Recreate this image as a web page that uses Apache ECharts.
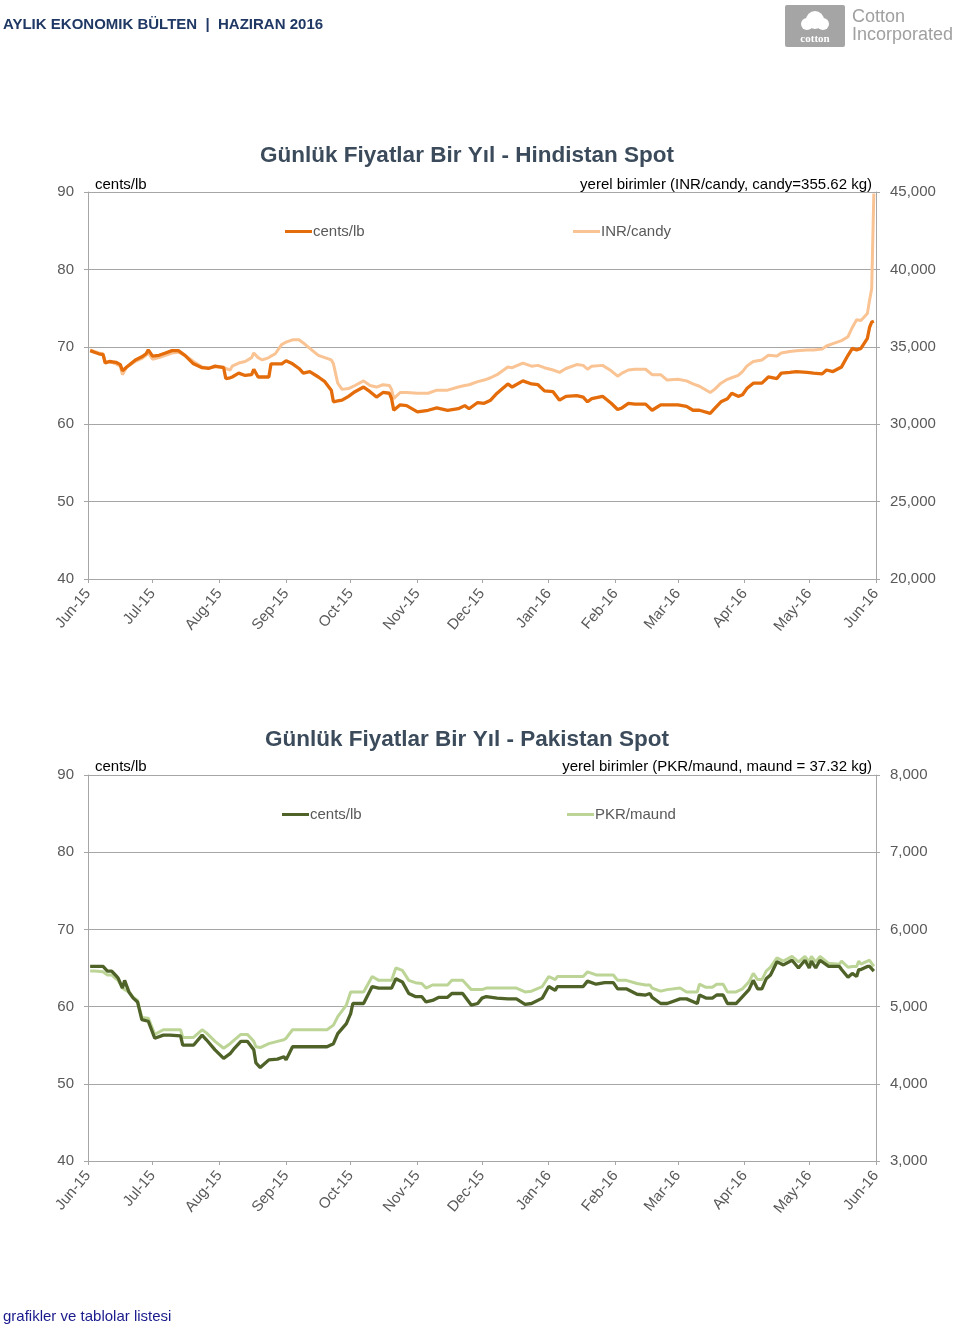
<!DOCTYPE html>
<html>
<head>
<meta charset="utf-8">
<script src="https://cdn.jsdelivr.net/npm/echarts@6/dist/echarts.min.js"></script>
<style>
html,body{margin:0;padding:0;background:#fff;}
#c{width:960px;height:1333px;}
</style>
</head>
<body>
<div id="c"></div>
<script>
// ---------- tick labels ----------
const monthStarts = ['2015-06-01','2015-07-01','2015-08-01','2015-09-01','2015-10-01','2015-11-01','2015-12-01','2016-01-01','2016-02-01','2016-03-01','2016-04-01','2016-05-01','2016-06-01'];
const monthLabels = ['Jun-15','Jul-15','Aug-15','Sep-15','Oct-15','Nov-15','Dec-15','Jan-16','Feb-16','Mar-16','Apr-16','May-16','Jun-16'];

// ---------- India ----------
const indiaDates = ['2015-06-02','2015-06-04','2015-06-06','2015-06-08','2015-06-09','2015-06-11','2015-06-14','2015-06-16','2015-06-17','2015-06-19','2015-06-23','2015-06-26','2015-06-28','2015-06-29','2015-07-01','2015-07-04','2015-07-07','2015-07-10','2015-07-13','2015-07-16','2015-07-20','2015-07-24','2015-07-27','2015-07-30','2015-08-03','2015-08-04','2015-08-06','2015-08-07','2015-08-10','2015-08-13','2015-08-16','2015-08-17','2015-08-19','2015-08-21','2015-08-24','2015-08-25','2015-08-27','2015-08-30','2015-09-01','2015-09-04','2015-09-07','2015-09-09','2015-09-12','2015-09-16','2015-09-19','2015-09-22','2015-09-23','2015-09-25','2015-09-27','2015-09-30','2015-10-03','2015-10-07','2015-10-10','2015-10-13','2015-10-16','2015-10-19','2015-10-20','2015-10-21','2015-10-24','2015-10-27','2015-11-01','2015-11-06','2015-11-10','2015-11-15','2015-11-20','2015-11-23','2015-11-25','2015-11-29','2015-12-02','2015-12-05','2015-12-08','2015-12-13','2015-12-15','2015-12-20','2015-12-24','2015-12-27','2015-12-30','2016-01-03','2016-01-06','2016-01-09','2016-01-14','2016-01-17','2016-01-19','2016-01-21','2016-01-26','2016-01-30','2016-02-02','2016-02-04','2016-02-07','2016-02-10','2016-02-15','2016-02-18','2016-02-22','2016-02-25','2016-03-01','2016-03-05','2016-03-08','2016-03-11','2016-03-16','2016-03-18','2016-03-21','2016-03-24','2016-03-26','2016-03-29','2016-03-31','2016-04-02','2016-04-05','2016-04-09','2016-04-12','2016-04-16','2016-04-18','2016-04-22','2016-04-25','2016-04-30','2016-05-03','2016-05-07','2016-05-09','2016-05-12','2016-05-16','2016-05-19','2016-05-21','2016-05-23','2016-05-25','2016-05-28','2016-05-29','2016-05-30','2016-05-31'];
const indiaCents = [69.5,69.3,69.1,69.0,67.9,68.1,68.0,67.7,66.9,67.4,68.3,68.7,69.1,69.6,68.8,68.9,69.2,69.5,69.5,68.9,67.8,67.3,67.2,67.5,67.3,65.9,66.0,66.1,66.6,66.3,66.4,67.1,66.1,66.1,66.1,67.8,67.8,67.8,68.2,67.8,67.2,66.6,66.8,66.1,65.5,64.4,62.9,63.0,63.1,63.6,64.2,64.8,64.2,63.5,64.1,64.0,63.3,61.8,62.5,62.4,61.6,61.8,62.1,61.8,62.0,62.4,62.0,62.8,62.7,63.1,64.0,65.2,64.8,65.6,65.2,65.1,64.3,64.2,63.1,63.6,63.7,63.5,62.9,63.3,63.6,62.7,61.9,62.1,62.7,62.6,62.6,61.8,62.5,62.5,62.5,62.3,61.8,61.8,61.4,62.0,62.9,63.3,64.0,63.6,63.8,64.6,65.3,65.3,66.1,65.9,66.6,66.7,66.8,66.7,66.6,66.5,67.0,66.8,67.4,68.9,69.8,69.6,69.8,71.1,72.5,73.2,73.3];
const indiaInr = [34800,34700,34600,34550,34050,34050,33900,33750,33200,33700,34050,34250,34450,34600,34200,34300,34450,34600,34650,34450,34050,33700,33650,33700,33700,33600,33500,33750,33950,34050,34300,34600,34300,34150,34300,34400,34550,35150,35300,35450,35450,35250,34900,34450,34300,34150,33900,32650,32250,32300,32500,32800,32500,32400,32550,32500,32250,31650,32050,32050,32000,32000,32200,32200,32400,32500,32550,32750,32850,33000,33200,33700,33650,33950,33750,33800,33650,33500,33350,33600,33850,33800,33550,33750,33800,33450,33100,33300,33500,33550,33550,33200,33200,32850,32900,32800,32600,32450,32050,32250,32650,32900,33000,33150,33400,33750,34050,34150,34450,34400,34600,34700,34750,34800,34800,34850,35050,35200,35400,35650,36250,36750,36700,37150,38000,38750,44900];

// ---------- Pakistan ----------
const pakDates = ['2015-06-02','2015-06-04','2015-06-08','2015-06-10','2015-06-12','2015-06-14','2015-06-15','2015-06-17','2015-06-18','2015-06-20','2015-06-22','2015-06-24','2015-06-26','2015-06-29','2015-07-02','2015-07-06','2015-07-09','2015-07-14','2015-07-15','2015-07-20','2015-07-24','2015-07-26','2015-07-30','2015-08-03','2015-08-06','2015-08-08','2015-08-11','2015-08-14','2015-08-17','2015-08-18','2015-08-20','2015-08-24','2015-08-28','2015-08-31','2015-09-01','2015-09-04','2015-09-10','2015-09-20','2015-09-23','2015-09-25','2015-09-29','2015-10-01','2015-10-02','2015-10-07','2015-10-11','2015-10-14','2015-10-20','2015-10-22','2015-10-25','2015-10-28','2015-10-31','2015-11-03','2015-11-05','2015-11-08','2015-11-11','2015-11-15','2015-11-17','2015-11-22','2015-11-26','2015-11-29','2015-12-01','2015-12-03','2015-12-08','2015-12-13','2015-12-17','2015-12-21','2015-12-24','2015-12-29','2016-01-01','2016-01-04','2016-01-05','2016-01-17','2016-01-19','2016-01-23','2016-01-27','2016-01-31','2016-02-02','2016-02-06','2016-02-11','2016-02-15','2016-02-17','2016-02-18','2016-02-22','2016-02-25','2016-03-02','2016-03-05','2016-03-10','2016-03-11','2016-03-14','2016-03-17','2016-03-19','2016-03-22','2016-03-24','2016-03-28','2016-03-31','2016-04-03','2016-04-05','2016-04-07','2016-04-09','2016-04-11','2016-04-13','2016-04-16','2016-04-19','2016-04-23','2016-04-26','2016-04-29','2016-05-01','2016-05-02','2016-05-04','2016-05-06','2016-05-10','2016-05-15','2016-05-16','2016-05-19','2016-05-21','2016-05-23','2016-05-24','2016-05-25','2016-05-28','2016-05-29','2016-05-31'];
const pakCents = [65.2,65.2,65.2,64.6,64.6,64.0,63.7,62.4,63.4,61.9,61.1,60.6,58.3,58.1,55.9,56.3,56.3,56.2,55.0,55.0,56.3,55.7,54.4,53.3,53.9,54.6,55.5,55.5,54.4,52.7,52.1,53.1,53.2,53.5,53.1,54.8,54.8,54.8,55.2,56.5,57.8,59.1,60.4,60.4,62.6,62.4,62.4,63.6,63.2,61.7,61.3,61.3,60.6,60.8,61.2,61.2,61.7,61.7,60.2,60.4,61.1,61.3,61.1,61.0,61.0,60.3,60.4,61.1,62.6,62.1,62.6,62.6,63.3,62.9,63.1,63.1,62.3,62.3,61.6,61.5,61.7,61.2,60.4,60.4,61.0,61.0,60.4,61.5,61.1,61.1,61.5,61.5,60.4,60.4,61.3,62.2,63.4,62.3,62.3,63.6,64.1,65.8,65.4,66.0,65.0,66.0,65.0,65.9,65.0,66.0,65.2,65.2,64.8,63.8,64.3,63.9,64.8,64.8,65.2,65.2,64.6];
const pakPkr = [5460,5460,5450,5410,5410,5360,5340,5240,5220,5190,5120,5080,4860,4850,4640,4700,4700,4700,4600,4600,4700,4660,4550,4460,4520,4570,4640,4640,4550,4480,4470,4520,4550,4570,4590,4700,4700,4700,4760,4870,5020,5190,5190,5190,5390,5340,5340,5500,5470,5340,5310,5300,5240,5280,5280,5280,5340,5340,5220,5220,5220,5240,5240,5240,5240,5190,5200,5260,5390,5350,5390,5390,5450,5410,5410,5410,5340,5340,5300,5280,5280,5240,5200,5220,5240,5190,5190,5290,5250,5250,5290,5290,5190,5190,5230,5320,5430,5350,5350,5460,5510,5630,5590,5650,5580,5650,5580,5650,5580,5650,5560,5550,5590,5510,5520,5520,5590,5550,5590,5600,5520];

const orangeDark = '#E46C0A', orangeLight = '#F9C393';
const greenDark = '#4F6228', greenLight = '#BCD596';
const gridColor = '#A6A6A6', labelColor = '#595959';
const FONT = '"Liberation Sans", Arial, sans-serif';

function parseLocal(s){ const p = s.split('-').map(Number); return Date.UTC(p[0], p[1]-1, p[2]); }
const monthVals = monthStarts.map(parseLocal);
function monthFmt(v){
  const i = monthVals.findIndex(m => Math.abs(m - v) < 43200000);
  return i >= 0 ? monthLabels[i] : '';
}
function pairs(dates, vals){ return dates.map((d,i)=>[parseLocal(d), vals[i]]); }
function thousands(v){ return String(v).replace(/\B(?=(\d{3})+(?!\d))/g, ','); }

function xAxisFor(gi){
  return {
    type:'value', gridIndex:gi, min:monthVals[0], max:monthVals[monthVals.length-1],
    axisLine:{show:true, onZero:false, lineStyle:{color:gridColor, width:1}},
    axisTick:{show:true, length:4, customValues:monthVals, lineStyle:{color:gridColor}},
    axisLabel:{customValues:monthVals, formatter:monthFmt, rotate:50, margin:12, color:labelColor, fontSize:15, fontFamily:FONT},
    splitLine:{show:false}
  };
}
function yLeft(gi){
  return {type:'value', gridIndex:gi, min:40, max:90, interval:10, position:'left',
    axisLine:{show:true, lineStyle:{color:gridColor}},
    axisTick:{show:true, length:4, lineStyle:{color:gridColor}},
    axisLabel:{color:labelColor, fontSize:15, fontFamily:FONT, margin:14},
    splitLine:{show:true, lineStyle:{color:gridColor, width:1}}};
}
function yRight(gi, min, max, interval){
  return {type:'value', gridIndex:gi, min:min, max:max, interval:interval, position:'right',
    axisLine:{show:true, lineStyle:{color:gridColor}},
    axisTick:{show:true, length:4, lineStyle:{color:gridColor}},
    axisLabel:{color:labelColor, fontSize:15, fontFamily:FONT, margin:14, formatter:thousands},
    splitLine:{show:false}};
}
function lineSeries(name, xi, yi, data, color, w){
  return {name:name, type:'line', xAxisIndex:xi, yAxisIndex:yi, data:data, showSymbol:false, symbol:'none',
    lineStyle:{color:color, width:w}, itemStyle:{color:color}, animation:false, z: 3};
}
function legendFor(name, left, top){
  return {data:[name], left:left, top:top, icon:'rect', itemWidth:27, itemHeight:3, itemGap:0,
    textStyle:{color:labelColor, fontSize:15, fontFamily:FONT, padding:[0,0,0,-4]}, selectedMode:false};
}
function txt(x, y, text, opts){
  return {type:'text', x:x, y:y, style:Object.assign({text:text, fill:'#000', font:'15px ' + FONT}, opts||{})};
}

const chart = echarts.init(document.getElementById('c'), null, {renderer:'canvas'});
chart.setOption({
  animation:false,
  backgroundColor:'#fff',
  grid:[
    {left:88, top:192, width:788, height:387},
    {left:88, top:775, width:788, height:386}
  ],
  xAxis:[xAxisFor(0), xAxisFor(1)],
  yAxis:[yLeft(0), yRight(0, 20000, 45000, 5000), yLeft(1), yRight(1, 3000, 8000, 1000)],
  legend:[
    legendFor('cents/lb', 280, 219), legendFor('INR/candy', 568, 219),
    legendFor('cents/lb ', 277, 802), legendFor('PKR/maund', 562, 802)
  ],
  series:[
    lineSeries('INR/candy', 0, 1, pairs(indiaDates, indiaInr), orangeLight, 3),
    lineSeries('cents/lb', 0, 0, pairs(indiaDates, indiaCents), orangeDark, 3.3),
    lineSeries('PKR/maund', 1, 3, pairs(pakDates, pakPkr), greenLight, 3),
    lineSeries('cents/lb ', 1, 2, pairs(pakDates, pakCents), greenDark, 3.3)
  ],
  graphic:[
    txt(3, 17, 'AYLIK EKONOMIK BÜLTEN  |  HAZIRAN 2016', {fill:'#1F3864', font:'bold 15px "Liberation Sans Narrow", "Liberation Sans", Arial, sans-serif'}),
    {type:'rect', shape:{x:785, y:5, width:60, height:42, r:2}, style:{fill:'#A5A5A5'}},
    {type:'circle', shape:{cx:815, cy:20, r:9}, style:{fill:'#fff'}},
    {type:'circle', shape:{cx:807, cy:24, r:6}, style:{fill:'#fff'}},
    {type:'circle', shape:{cx:823, cy:24, r:6}, style:{fill:'#fff'}},
    txt(815, 34, 'cotton', {fill:'#fff', font:'bold 11px "Liberation Serif", serif', textAlign:'center'}),
    txt(852, 8, 'Cotton', {fill:'#A0A0A0', font:'18px "Liberation Sans Narrow", Arial, sans-serif'}),
    txt(852, 26, 'Incorporated', {fill:'#A0A0A0', font:'18px "Liberation Sans Narrow", Arial, sans-serif'}),
    txt(467, 144, 'Günlük Fiyatlar Bir Yıl - Hindistan Spot', {fill:'#3B4B5B', font:'bold 22.5px ' + FONT, textAlign:'center'}),
    txt(95, 177, 'cents/lb'),
    txt(872, 177, 'yerel birimler (INR/candy, candy=355.62 kg)', {textAlign:'right'}),
    txt(467, 728, 'Günlük Fiyatlar Bir Yıl - Pakistan Spot', {fill:'#3B4B5B', font:'bold 22.5px ' + FONT, textAlign:'center'}),
    txt(95, 759, 'cents/lb'),
    txt(872, 759, 'yerel birimler (PKR/maund, maund = 37.32 kg)', {textAlign:'right'}),
    txt(3, 1309, 'grafikler ve tablolar listesi', {fill:'#1A1A8C', font:'15px ' + FONT})
  ]
});
</script>
</body>
</html>
